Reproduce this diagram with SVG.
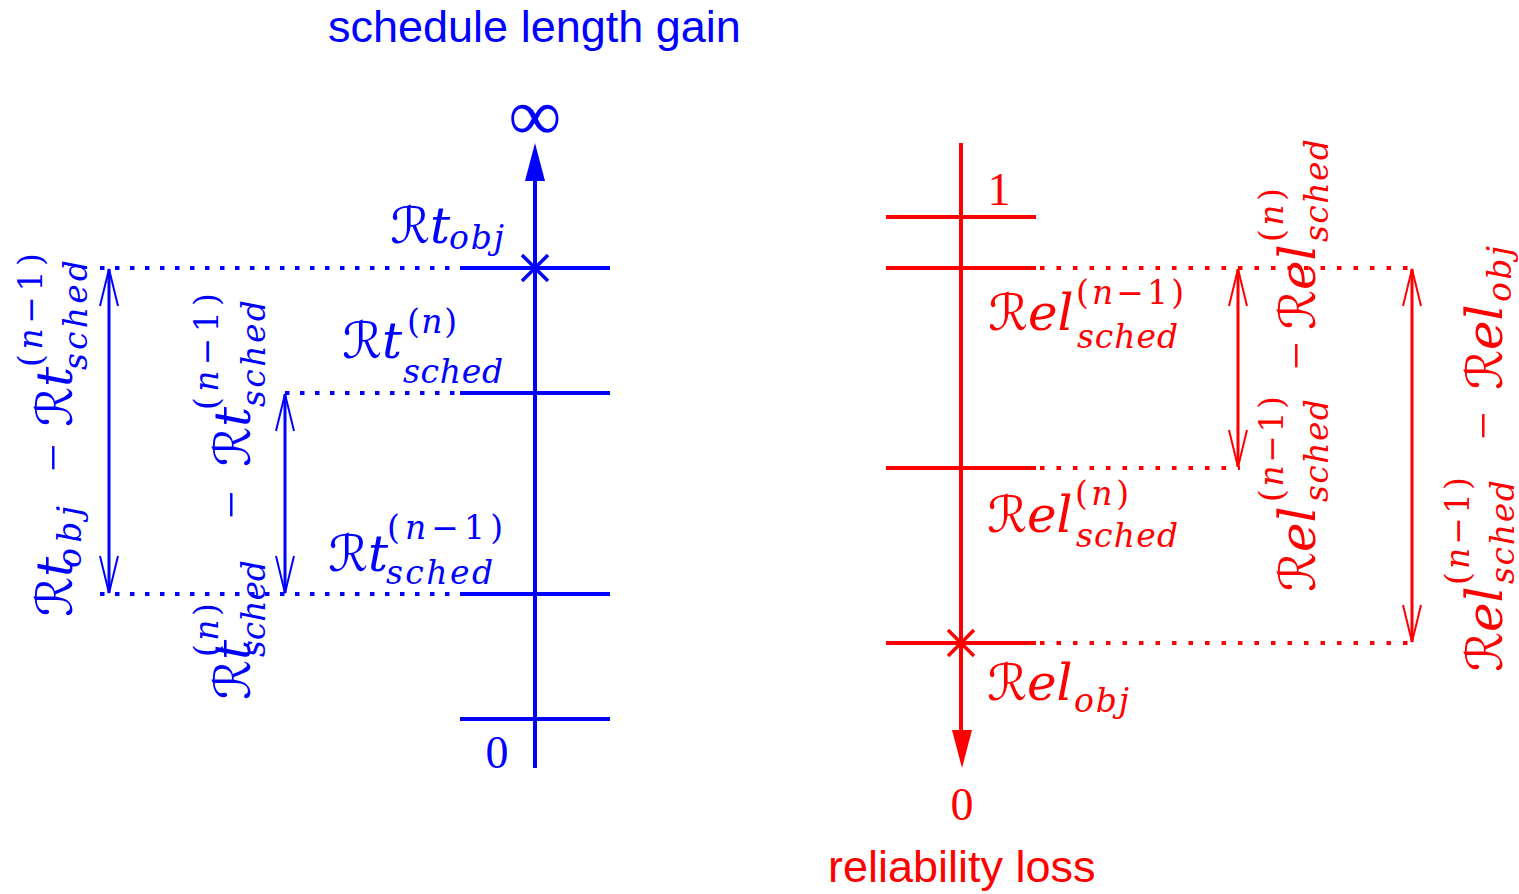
<svg xmlns="http://www.w3.org/2000/svg" width="1519" height="894" viewBox="0 0 1519 894">
<style>
.b{fill:#0000ff}
.r{fill:#ff0000}
.bl{stroke:#0000ff;fill:none}
.rl{stroke:#ff0000;fill:none}
.ax{stroke-width:4}
.tk{stroke-width:4}
.bdot{stroke:#0000ff;stroke-width:4;stroke-dasharray:4.5 10.5}
.rdot{stroke:#ff0000;stroke-width:4;stroke-dasharray:4.5 12}
.shaft{stroke-width:3}
.head{stroke-width:2}
.sans{font-family:"Liberation Sans",Arial,sans-serif;font-size:45px}
.num{font-family:"Liberation Serif",serif;font-size:46px}
.math{font-family:"DejaVu Serif",serif;font-size:50px}
.ss{font-size:33px}
.cal{font-family:"DejaVu Serif","DejaVu Sans",serif;font-style:normal}
.it{font-style:italic}
.mi{font-family:"Liberation Serif",serif;font-style:normal}
</style>
<rect width="1519" height="894" fill="#ffffff"/>

<g id="titles">
<text class="sans b" x="328" y="42">schedule length gain</text>
<text class="sans r" x="828" y="882">reliability loss</text>
</g>

<g id="blue-axis">
<line class="bl ax" x1="535" y1="768" x2="535" y2="178"/>
<polygon class="b" points="535,143 525,181 545,181"/>
<line class="bl tk" x1="460" y1="268" x2="610" y2="268"/>
<line class="bl tk" x1="460" y1="393" x2="610" y2="393"/>
<line class="bl tk" x1="460" y1="594" x2="610" y2="594"/>
<line class="bl tk" x1="460" y1="719" x2="610" y2="719"/>
<path class="bl" stroke-width="3.5" d="M522,255 L548,281 M548,255 L522,281"/>
<text class="mi b" x="535" y="140" font-size="74" text-anchor="middle">∞</text>
<text class="num b" x="497" y="768" text-anchor="middle">0</text>
</g>

<g id="red-axis">
<line class="rl ax" x1="961" y1="143" x2="961" y2="734"/>
<polygon class="r" points="962,768 952,730 972,730"/>
<line class="rl tk" x1="886" y1="217" x2="1036" y2="217"/>
<line class="rl tk" x1="886" y1="268" x2="1036" y2="268"/>
<line class="rl tk" x1="886" y1="468" x2="1036" y2="468"/>
<line class="rl tk" x1="886" y1="643" x2="1036" y2="643"/>
<path class="rl" stroke-width="3.5" d="M948,630 L974,656 M974,630 L948,656"/>
<text class="num r" x="999" y="205" text-anchor="middle">1</text>
<text class="num r" x="962" y="820" text-anchor="middle">0</text>
</g>

<g id="connectors">
<line class="bdot" x1="100" y1="268" x2="458" y2="268"/>
<line class="bdot" x1="285" y1="393" x2="458" y2="393"/>
<line class="bdot" x1="100" y1="594" x2="458" y2="594"/>
<line class="rdot" x1="1040" y1="268" x2="1414" y2="268"/>
<line class="rdot" x1="1040" y1="468" x2="1240" y2="468"/>
<line class="rdot" x1="1040" y1="643" x2="1414" y2="643"/>
<line class="bl shaft" x1="109" y1="269" x2="109" y2="593"/>
<path class="bl head" d="M100,306 L109,269 L118,306 M100,556 L109,593 L118,556"/>
<line class="bl shaft" x1="285" y1="394" x2="285" y2="593"/>
<path class="bl head" d="M276,431 L285,394 L294,431 M276,556 L285,593 L294,556"/>
<line class="rl shaft" x1="1238" y1="269" x2="1238" y2="467"/>
<path class="rl head" d="M1229,306 L1238,269 L1247,306 M1229,430 L1238,467 L1247,430"/>
<line class="rl shaft" x1="1412" y1="269" x2="1412" y2="642"/>
<path class="rl head" d="M1403,306 L1412,269 L1421,306 M1403,605 L1412,642 L1421,605"/>
</g>

<g id="label-rt-obj">
<text class="math b"><tspan x="390" y="243" class="cal">ℛ</tspan><tspan class="it">t</tspan><tspan x="449" y="249" class="ss it" textLength="55">obj</tspan></text>
</g>

<g id="label-rt-sched-n">
<text class="math b"><tspan x="342" y="358" class="cal">ℛ</tspan><tspan class="it">t</tspan><tspan x="407" y="333" class="ss" textLength="50">(<tspan class="it">n</tspan>)</tspan><tspan x="403" y="383" class="ss it" textLength="100">sched</tspan></text>
</g>

<g id="label-rt-sched-n1">
<text class="math b"><tspan x="328" y="571" class="cal">ℛ</tspan><tspan class="it">t</tspan><tspan x="387" y="539" class="ss" textLength="116">(<tspan class="it">n</tspan>−1)</tspan><tspan x="386" y="584" class="ss it" textLength="107">sched</tspan></text>
</g>

<g id="label-rel-sched-n1">
<text class="math r"><tspan x="988" y="330" class="cal">ℛ</tspan><tspan class="it">el</tspan><tspan x="1076" y="304" class="ss" textLength="108">(<tspan class="it">n</tspan>−1)</tspan><tspan x="1077" y="348" class="ss it" textLength="101">sched</tspan></text>
</g>

<g id="label-rel-sched-n">
<text class="math r"><tspan x="987" y="532" class="cal">ℛ</tspan><tspan class="it">el</tspan><tspan x="1075" y="505" class="ss" textLength="54">(<tspan class="it">n</tspan>)</tspan><tspan x="1076" y="547" class="ss it" textLength="102">sched</tspan></text>
</g>

<g id="label-rel-obj">
<text class="math r"><tspan x="987" y="700" class="cal">ℛ</tspan><tspan class="it">el</tspan><tspan x="1074" y="712" class="ss it" textLength="55">obj</tspan></text>
</g>

<g id="label-diff-left" transform="translate(72,617) rotate(-90)">
<text class="math b"><tspan x="0" y="0" class="cal">ℛ</tspan><tspan class="it">t</tspan><tspan x="49" y="9" class="ss it" textLength="62">obj</tspan><tspan x="145" y="-2" class="mi">−</tspan><tspan x="190" y="0" class="cal">ℛ</tspan><tspan class="it">t</tspan><tspan x="250" y="-30" class="ss" textLength="114">(<tspan class="it">n</tspan>−1)</tspan><tspan x="247" y="15" class="ss it" textLength="110">sched</tspan></text>
</g>

<g id="label-diff-mid" transform="translate(250,700) rotate(-90)">
<text class="math b"><tspan x="0" y="0" class="cal">ℛ</tspan><tspan class="it">t</tspan><tspan x="43" y="-32" class="ss" textLength="54">(<tspan class="it">n</tspan>)</tspan><tspan x="43" y="15" class="ss it" textLength="97">sched</tspan><tspan x="181" y="-2" class="mi">−</tspan><tspan x="233" y="0" class="cal">ℛ</tspan><tspan class="it">t</tspan><tspan x="290" y="-32" class="ss" textLength="117">(<tspan class="it">n</tspan>−1)</tspan><tspan x="293" y="15" class="ss it" textLength="107">sched</tspan></text>
</g>

<g id="label-diff-red-1" transform="translate(1315,592) rotate(-90)">
<text class="math r"><tspan x="0" y="0" class="cal">ℛ</tspan><tspan class="it">el</tspan><tspan x="90" y="-32" class="ss" textLength="106">(<tspan class="it">n</tspan>−1)</tspan><tspan x="90" y="13" class="ss it" textLength="103">sched</tspan><tspan x="222" y="-2" class="mi">−</tspan><tspan x="262" y="0" class="cal">ℛ</tspan><tspan class="it">el</tspan><tspan x="350" y="-32" class="ss" textLength="54">(<tspan class="it">n</tspan>)</tspan><tspan x="350" y="13" class="ss it" textLength="103">sched</tspan></text>
</g>

<g id="label-diff-red-2" transform="translate(1502,672) rotate(-90)">
<text class="math r"><tspan x="0" y="0" class="cal">ℛ</tspan><tspan class="it">el</tspan><tspan x="87" y="-33" class="ss" textLength="108">(<tspan class="it">n</tspan>−1)</tspan><tspan x="88" y="12" class="ss it" textLength="104">sched</tspan><tspan x="232" y="-2" class="mi">−</tspan><tspan x="282" y="0" class="cal">ℛ</tspan><tspan class="it">el</tspan><tspan x="370" y="9" class="ss it" textLength="56">obj</tspan></text>
</g>
</svg>
